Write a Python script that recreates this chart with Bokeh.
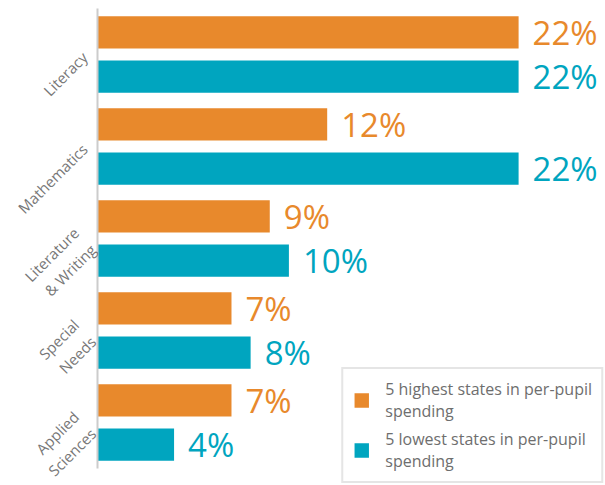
from math import pi
from bokeh.plotting import figure
from bokeh.models import ColumnDataSource, Range1d, Legend, LegendItem, FixedTicker
from bokeh.core.properties import value
from bokeh.embed import file_html
from bokeh.resources import INLINE

categories = ["Literacy", "Mathematics", "Literature\n& Writing", "Special\nNeeds", "Applied\nSciences"]
highest = [22, 12, 9, 7, 7]
lowest = [22, 22, 10, 8, 4]
series_names = ["5 highest states in per-pupil\nspending", "5 lowest states in per-pupil\nspending"]

ORANGE = "#E8892C"
TEAL = "#00A5BF"

n = len(categories)
centers = [n - i - 0.5 for i in range(n)]   # top-to-bottom category slots
OFF = 0.24

src = ColumnDataSource(dict(
    y_hi=[c + OFF for c in centers],
    y_lo=[c - OFF for c in centers],
    hi=highest,
    lo=lowest,
    hi_lbl=[f"{v}%" for v in highest],
    lo_lbl=[f"{v}%" for v in lowest],
))

p = figure(width=605, height=485, output_backend="svg", toolbar_location=None,
           y_range=Range1d(-17 / 92, n), x_range=Range1d(0, 26.54),
           min_border_left=97, min_border_right=0, min_border_top=8, min_border_bottom=0)

r_hi = p.hbar(y="y_hi", right="hi", left=0, height=0.35, source=src,
              color=ORANGE, line_color=None)
r_lo = p.hbar(y="y_lo", right="lo", left=0, height=0.35, source=src,
              color=TEAL, line_color=None)

p.text(x="hi", y="y_hi", text="hi_lbl", source=src,
       x_offset=14, text_baseline="middle", text_color=ORANGE,
       text_font=value("Open Sans"), text_font_size="33px")
p.text(x="lo", y="y_lo", text="lo_lbl", source=src,
       x_offset=14, text_baseline="middle", text_color=TEAL,
       text_font=value("Open Sans"), text_font_size="33px")

p.xaxis.visible = False
p.xgrid.visible = False
p.ygrid.visible = False
p.outline_line_color = None

ya = p.yaxis[0]
ya.ticker = FixedTicker(ticks=centers)
ya.major_label_overrides = {c: lab for c, lab in zip(centers, categories)}
ya.bounds = (0, n)
ya.axis_line_color = "#cccccc"
ya.axis_line_width = 2
ya.major_tick_line_color = None
ya.minor_tick_line_color = None
ya.major_label_orientation = pi / 4
ya.major_label_text_font = "Open Sans"
ya.major_label_text_font_size = "15px"
ya.major_label_text_color = "#777777"
ya.major_label_standoff = 7

legend = Legend(items=[LegendItem(label=series_names[0], renderers=[r_hi]),
                       LegendItem(label=series_names[1], renderers=[r_lo])],
                location="bottom_right", margin=2, padding=9, spacing=6,
                glyph_width=18, glyph_height=18, label_standoff=15,
                label_text_font="Open Sans", label_text_font_size="16px",
                label_text_color="#6e6e6e", label_text_line_height=0.85,
                border_line_color="#cccccc", border_line_width=2,
                background_fill_color="white", background_fill_alpha=1)
p.add_layout(legend, "center")

open("out.html", "w").write(file_html(p, INLINE))
